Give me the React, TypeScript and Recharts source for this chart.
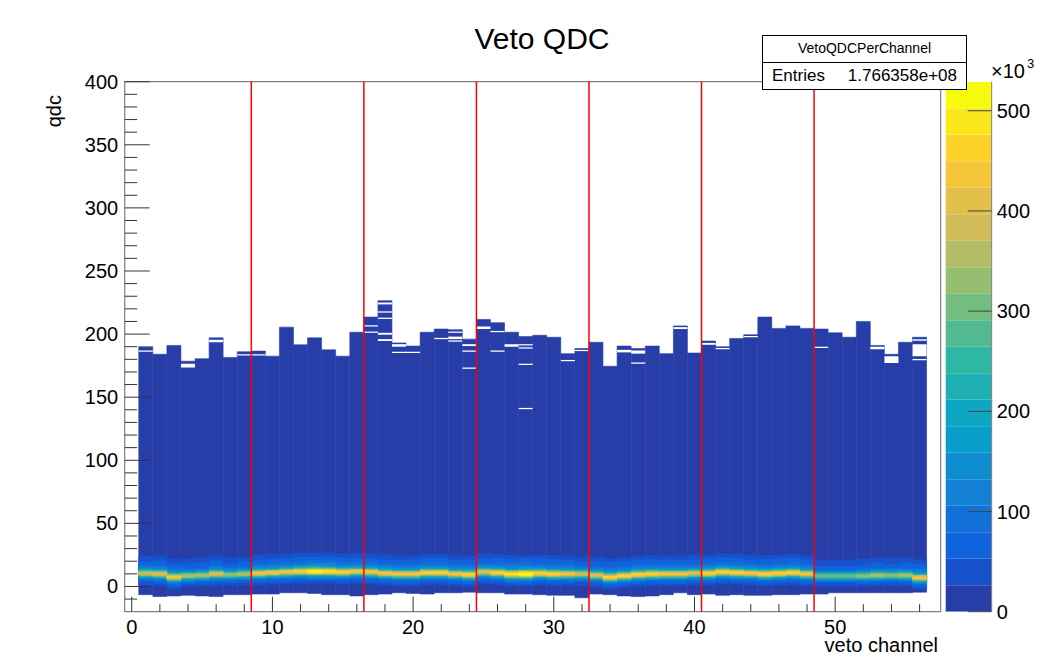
import React from 'react';
import { ComposedChart, BarChart, Bar, XAxis, YAxis, ReferenceLine, ReferenceArea } from 'recharts';

const FONT = '"Liberation Sans", Arial, Helvetica, sans-serif';

// veto channels 1..56
const channels = [
  1, 2, 3, 4, 5, 6, 7, 8, 9, 10, 11, 12, 13, 14, 15, 16, 17, 18, 19, 20,
  21, 22, 23, 24, 25, 26, 27, 28, 29, 30, 31, 32, 33, 34, 35, 36, 37, 38, 39, 40,
  41, 42, 43, 44, 45, 46, 47, 48, 49, 50, 51, 52, 53, 54, 55, 56,
];

// highest / lowest filled qdc bin edge per channel
const columnTop = [
  190, 184, 191, 178.5, 180.5, 197, 181.5, 186, 186.5, 182.5,
  205.5, 191.5, 197, 187.5, 182.5, 201.5, 213.5, 226.5, 193, 190.5,
  201.5, 204, 203.5, 196, 211.5, 209, 201.5, 198, 199, 197.5,
  184.5, 188.5, 193.5, 174.5, 190.5, 188.5, 190.5, 184.5, 206.5, 185,
  194.5, 190, 196.5, 199.5, 213.5, 204.5, 206.5, 204.5, 204, 201,
  197.5, 210, 191, 184, 193.5, 197.5,
];
const columnBottom = [
  -6.5, -8, -7.5, -7, -7.5, -8, -6.5, -6.5, -6, -6,
  -5, -5, -5.5, -6.5, -6.5, -7.5, -6.5, -6, -5, -5.5,
  -6, -5, -5, -4.5, -5, -5, -6, -6, -6.5, -7,
  -7, -9, -6, -6.5, -7.5, -8, -7.5, -6.5, -5, -6.5,
  -6, -7, -6.5, -7, -7, -6.5, -6.5, -6, -6, -5,
  -5, -5, -5, -5, -5, -4.5,
];

// pedestal peak: position (qdc) and height of the peak bin (x10^3 entries)
const peakQdc = [
  10.5, 10, 7.5, 8.5, 9, 10, 9.5, 10, 10.5, 11,
  11.5, 12, 12, 12, 11.5, 12, 11.5, 10.5, 10, 10,
  11, 11, 10, 9.5, 11.5, 11, 10, 10, 10.5, 10,
  10, 10, 9, 7.5, 8.5, 9.5, 10, 10, 10, 10.5,
  10.5, 11.5, 11, 10.5, 10, 10.5, 11, 10, 8.5, 8.5,
  8.5, 8.5, 9, 9, 9, 7,
];
const peakCountK = [
  384, 410, 437, 357, 357, 410, 331, 357, 437, 437,
  437, 463, 515, 490, 463, 437, 437, 437, 437, 437,
  463, 463, 437, 463, 410, 463, 490, 529, 463, 463,
  437, 384, 410, 463, 463, 463, 463, 437, 437, 410,
  463, 463, 463, 437, 463, 463, 463, 437, 304, 304,
  304, 331, 357, 331, 357, 437,
];

// shape of the pedestal around its peak (offset in qdc, share of peak bin)
const profileOffset = [-9, -8, -7, -6, -5, -4, -3, -2, -1, 0, 1, 2, 3, 4, 5, 6, 7, 8, 9, 10, 11, 12, 13, 14];
const profileShare = [
  0.07, 0.1, 0.13, 0.17, 0.22, 0.3, 0.45, 0.65, 0.9, 1, 0.85, 0.6,
  0.42, 0.32, 0.26, 0.22, 0.19, 0.17, 0.15, 0.13, 0.12, 0.1, 0.08, 0.065,
];

// empty bins inside the filled columns: [channel, qdc from, qdc to]
const emptyBins: [number, number, number][] = [
  [1, 186, 187],
  [4, 173.5, 176.5],
  [6, 193.5, 195.5],
  [8, 183, 184],
  [9, 183, 184],
  [17, 201, 202], [17, 206, 207],
  [18, 223.5, 225], [18, 217, 218], [18, 212, 213], [18, 199.5, 201], [18, 194.5, 196],
  [19, 190, 192], [19, 185, 186],
  [20, 185, 186],
  [22, 196, 197],
  [23, 201, 202], [23, 196, 198], [23, 194, 195],
  [24, 190.5, 192], [24, 186, 187], [24, 172.5, 173.5],
  [25, 204, 206],
  [26, 201.5, 202.5], [26, 186, 187],
  [27, 190, 192],
  [28, 191, 192], [28, 188.5, 189.5], [28, 175.5, 176.5], [28, 140.5, 141.5],
  [31, 178.5, 179.5],
  [32, 186.5, 187.5],
  [35, 185.5, 187.5],
  [36, 184.5, 187], [36, 176.5, 177.5],
  [39, 204, 205.5],
  [41, 191.5, 193],
  [42, 188, 189],
  [44, 197.5, 198.5],
  [49, 189, 190],
  [53, 188, 190],
  [54, 177, 182.5],
  [56, 194.8, 196], [56, 182.5, 192], [56, 179.2, 180.2],
];

const boardEdges = [8.5, 16.5, 24.5, 32.5, 40.5, 48.5];
const xTicks = [0, 2, 4, 6, 8, 10, 12, 14, 16, 18, 20, 22, 24, 26, 28, 30, 32, 34, 36, 38, 40, 42, 44, 46, 48, 50, 52, 54, 56];
const yTicks = [
  -10, 0, 10, 20, 30, 40, 50, 60, 70, 80, 90, 100, 110, 120, 130, 140, 150, 160, 170, 180, 190, 200,
  210, 220, 230, 240, 250, 260, 270, 280, 290, 300, 310, 320, 330, 340, 350, 360, 370, 380, 390, 400,
];
const zTicks = [0, 100, 200, 300, 400, 500];
const zMaxK = 529;
const nContours = 20;
const xDomain = [-0.5, 57.5];
const yDomain = [-20, 400];

// ROOT kBird palette
const birdStops = [0, 0.125, 0.25, 0.375, 0.5, 0.625, 0.75, 0.875, 1];
const birdR = [0.2082, 0.0592, 0.078, 0.0232, 0.1802, 0.5301, 0.8186, 0.9956, 0.9764];
const birdG = [0.1664, 0.3599, 0.5041, 0.6419, 0.7178, 0.7492, 0.7328, 0.7862, 0.9832];
const birdB = [0.5293, 0.8684, 0.8385, 0.7914, 0.6425, 0.4662, 0.3499, 0.1968, 0.0539];

function bird(t: number) {
  let k = 0;
  while (k < birdStops.length - 2 && t > birdStops[k + 1]) k++;
  const f = (t - birdStops[k]) / (birdStops[k + 1] - birdStops[k]);
  const c = (a: number[]) => Math.round(255 * (a[k] + (a[k + 1] - a[k]) * f));
  return `rgb(${c(birdR)},${c(birdG)},${c(birdB)})`;
}

const levelColors = Array.from({ length: nContours }, (_, i) =>
  bird(Math.floor(((i + 0.99) * 255) / nContours) / 254)
);
const levelStep = zMaxK / nContours;
const levels = Array.from({ length: nContours - 1 }, (_, i) => i + 1);
const maxGaps = Math.max(...channels.map((ch) => emptyBins.filter((g) => g[0] === ch).length));
const gapSlots = Array.from({ length: maxGaps }, (_, i) => i);

const rows = channels.map((ch, i) => {
  const row: Record<string, any> = { ch, col: [columnBottom[i], columnTop[i]] };
  levels.forEach((L) => {
    const inside = profileOffset.filter((_, k) => profileShare[k] * peakCountK[i] >= L * levelStep);
    row[`lv${L}`] = inside.length
      ? [peakQdc[i] + Math.min(...inside) - 0.5, peakQdc[i] + Math.max(...inside) + 0.5]
      : null;
  });
  const gaps = emptyBins.filter((g) => g[0] === ch);
  gapSlots.forEach((k) => {
    row[`gap${k}`] = gaps[k] ? [gaps[k][1], gaps[k][2]] : null;
  });
  return row;
});

const zRow: Record<string, any> = { name: 'z' };
levelColors.forEach((_, i) => {
  zRow[`z${i}`] = levelStep;
});

function XTick({ x, y, payload }: any) {
  const major = payload.value % 10 === 0;
  return (
    <g>
      <line x1={x} x2={x} y1={y} y2={y - (major ? 15 : 7.5)} stroke="#333" />
      {major && (
        <text x={x} y={y + 22} textAnchor="middle" fontSize={20} fill="#000" fontFamily={FONT}>
          {payload.value}
        </text>
      )}
    </g>
  );
}

function YTick({ x, y, payload }: any) {
  const major = payload.value % 50 === 0;
  return (
    <g>
      <line x1={x} x2={x + (major ? 25 : 12.5)} y1={y} y2={y} stroke="#333" />
      {major && (
        <text x={x - 6.5} y={y + 7} textAnchor="end" fontSize={20} fill="#000" fontFamily={FONT}>
          {payload.value}
        </text>
      )}
    </g>
  );
}

function ZTick({ x, y, payload }: any) {
  return (
    <g>
      <line x1={x} x2={x - 24} y1={y} y2={y} stroke="#444" />
      <text x={x + 5} y={y + 7} textAnchor="start" fontSize={20} fill="#000" fontFamily={FONT}>
        {payload.value}
      </text>
    </g>
  );
}

export default function App() {
  return (
    <div
      style={{
        position: 'absolute',
        left: 0,
        top: 0,
        width: 1062,
        height: 657,
        background: '#fff',
        overflow: 'hidden',
        fontFamily: FONT,
      }}
    >
      <div style={{ position: 'absolute', left: 0, top: 0 }}>
        <ComposedChart
          width={1062}
          height={657}
          data={rows}
          margin={{ top: 81.7, right: 121.3, bottom: 0, left: 0 }}
          barCategoryGap={0}
          barGap={0}
        >
          <XAxis
            xAxisId="main"
            type="number"
            dataKey="ch"
            domain={xDomain}
            ticks={xTicks}
            interval={0}
            height={45.3}
            tick={XTick}
            tickSize={0}
            tickMargin={0}
            tickLine={false}
            axisLine={false}
            allowDataOverflow
          />
          {levels.map((L) => (
            <XAxis
              key={`xl${L}`}
              xAxisId={`lv${L}`}
              type="number"
              dataKey="ch"
              domain={xDomain}
              height={0}
              hide
              allowDataOverflow
            />
          ))}
          {gapSlots.map((k) => (
            <XAxis
              key={`xg${k}`}
              xAxisId={`gap${k}`}
              type="number"
              dataKey="ch"
              domain={xDomain}
              height={0}
              hide
              allowDataOverflow
            />
          ))}
          <YAxis
            type="number"
            domain={yDomain}
            ticks={yTicks}
            interval={0}
            width={124.7}
            tick={YTick}
            tickSize={0}
            tickMargin={0}
            tickLine={false}
            axisLine={false}
            allowDataOverflow
          />

          <Bar
            xAxisId="main"
            dataKey="col"
            fill={levelColors[0]}
            stroke={levelColors[0]}
            strokeWidth={0.6}
            isAnimationActive={false}
          />
          {levels.map((L) => (
            <Bar
              key={`b${L}`}
              xAxisId={`lv${L}`}
              dataKey={`lv${L}`}
              fill={levelColors[L]}
              stroke={levelColors[L]}
              strokeWidth={0.6}
              isAnimationActive={false}
            />
          ))}
          {gapSlots.map((k) => (
            <Bar key={`g${k}`} xAxisId={`gap${k}`} dataKey={`gap${k}`} fill="#ffffff" isAnimationActive={false} />
          ))}

          {boardEdges.map((e) => (
            <ReferenceLine key={e} xAxisId="main" x={e} stroke="#ff0000" strokeWidth={1.5} />
          ))}
          <ReferenceArea
            xAxisId="main"
            x1={xDomain[0]}
            x2={xDomain[1]}
            y1={yDomain[0]}
            y2={yDomain[1]}
            fill="none"
            fillOpacity={0}
            stroke="#808080"
            strokeWidth={1.2}
          />
        </ComposedChart>
      </div>

      <div style={{ position: 'absolute', left: 0, top: 0 }}>
        <BarChart
          width={1062}
          height={657}
          data={[zRow]}
          margin={{ top: 81.7, right: 0, bottom: 45.3, left: 945.7 }}
          barCategoryGap={0}
        >
          <XAxis dataKey="name" height={0} hide />
          <YAxis
            orientation="right"
            type="number"
            width={70.3}
            domain={[0, zMaxK]}
            ticks={zTicks}
            interval={0}
            tick={ZTick}
            tickSize={0}
            tickMargin={0}
            tickLine={false}
            axisLine={{ stroke: '#808080' }}
            allowDataOverflow
          />
          {levelColors.map((c, i) => (
            <Bar key={`z${i}`} dataKey={`z${i}`} stackId="z" fill={c} isAnimationActive={false} />
          ))}
        </BarChart>
      </div>

      <svg
        width={1062}
        height={657}
        style={{ position: 'absolute', left: 0, top: 0, pointerEvents: 'none' }}
        fontFamily={FONT}
      >
        <text x={542} y={49} textAnchor="middle" fontSize={30} fill="#000">
          Veto QDC
        </text>
        <text x={61} y={95} textAnchor="end" fontSize={20} fill="#000" transform="rotate(-90 61 95)">
          qdc
        </text>
        <text x={938} y={652} textAnchor="end" fontSize={20} fill="#000">
          veto channel
        </text>
        <text x={991} y={78} fontSize={20} fill="#000">
          ×10
        </text>
        <text x={1027} y={68} fontSize={13} fill="#000">
          3
        </text>
        <rect x={762.5} y={35.5} width={204} height={54} fill="#fff" stroke="#000" strokeWidth={1} />
        <line x1={762.5} x2={966.5} y1={62.5} y2={62.5} stroke="#000" strokeWidth={1} />
        <text x={864.5} y={53} textAnchor="middle" fontSize={14} fill="#000">
          VetoQDCPerChannel
        </text>
        <text x={772} y={81} fontSize={17} fill="#000">
          Entries
        </text>
        <text x={957} y={81} textAnchor="end" fontSize={17} fill="#000">
          1.766358e+08
        </text>
      </svg>
    </div>
  );
}
